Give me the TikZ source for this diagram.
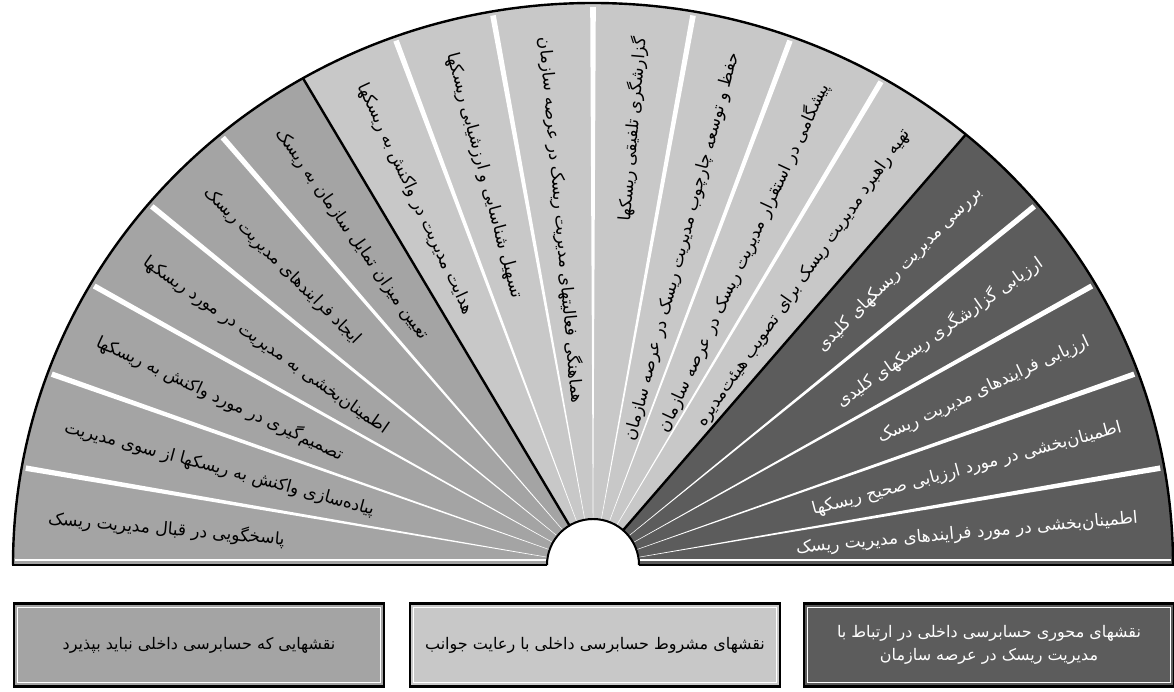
\documentclass[tikz,border=0pt]{standalone}
\usepackage{fontspec}
\newfontfamily\fa[Script=Arabic]{DejaVu Sans}
\TeXXeTstate=1
\definecolor{gA}{HTML}{A4A4A4}
\definecolor{gB}{HTML}{C8C8C8}
\definecolor{gC}{HTML}{5C5C5C}
\tikzset{
  lab/.style={font=\fa\fontsize{17}{20}\selectfont, inner sep=0pt},
  boxst/.style={draw=black, line width=2.5pt, minimum width=370pt, minimum height=83pt, inner sep=2pt,
     font=\fa\fontsize{16}{23}\selectfont, align=center},
  sep/.style={white},
  bound/.style={black, line width=2.4pt},
}
\begin{document}
\begin{tikzpicture}[x=1pt,y=1pt]
\useasboundingbox (0,0) rectangle (1174,691);
\fill[white] (0,0) rectangle (1174,691);
\coordinate (C) at (593,126);
% sectors
\fill[gA,shift={(C)}] (0,0) -- (180:580 and 562) arc[start angle=180,end angle=120,x radius=580,y radius=562] -- cycle;
\fill[gB,shift={(C)}] (0,0) -- (120:580 and 562) arc[start angle=120,end angle=50,x radius=580,y radius=562] -- cycle;
\fill[gC,shift={(C)}] (0,0) -- (50:580 and 562) arc[start angle=50,end angle=0,x radius=580,y radius=562] -- cycle;
% white separators
\foreach \a in {10,20,30,40,60,70,80,90,100,110,130,140,150,160,170}{
  \fill[sep,shift={(C)}] (0,0) -- (\a-0.28:576 and 558) -- (\a+0.28:576 and 558) -- cycle;
}
% group boundaries
\draw[bound,shift={(C)}] (0,0) -- (50:580 and 562);
\draw[bound,shift={(C)}] (0,0) -- (120:580 and 562);
% white line above bottom
\draw[white,line width=1.5pt] (15,131) -- (546,131);
\draw[white,line width=1.5pt] (640,131) -- (1171,131);
% outer arc and bottom
\draw[bound] (13,126) arc[start angle=180,end angle=0,x radius=580,y radius=562];
\draw[bound] (12,126) -- (547,126);
\draw[bound] (639,126) -- (1174,126);
% inner semicircle
\fill[white] (547,124.8) arc[start angle=180,end angle=0,radius=46] -- cycle;
\draw[black,line width=2pt] (547,126) arc[start angle=180,end angle=0,radius=46];
% labels: left half (outer end = west)
\foreach \a/\t [count=\i] in {
 175/پاسخگویی در قبال مدیریت ریسک,
 165/پیاده‌سازی واکنش به ریسکها از سوی مدیریت,
 155/تصمیم‌گیری در مورد واکنش به ریسکها,
 145/اطمینان‌بخشی به مدیریت در مورد ریسکها,
 135/ایجاد فرایندهای مدیریت ریسک,
 125/تعیین میزان تمایل سازمان به ریسک,
 115/هدایت مدیریت در واکنش به ریسکها,
 105/تسهیل شناسایی و ارزشیابی ریسکها,
 95/هماهنگی فعالیتهای مدیریت ریسک در عرصه سازمان}{
  \node[lab, rotate=\a-180, anchor=west] (L\i) at ([shift={(\a:547 and 530)}]C) {\beginR\t\endR};
}
\foreach \a/\t [count=\i] in {
 85/گزارشگری تلفیقی ریسکها,
 75/حفظ و توسعه چارچوب مدیریت ریسک در عرصه سازمان,
 65/پیشگامی در استقرار مدیریت ریسک در عرصه سازمان,
 55/تهیه راهبرد مدیریت ریسک برای تصویب هیئت‌مدیره}{
  \node[lab, rotate=\a, anchor=east] (M\i) at ([shift={(\a:547 and 530)}]C) {\beginR\t\endR};
}
\foreach \a/\t [count=\i] in {
 45/بررسی مدیریت ریسکهای کلیدی,
 35/ارزیابی گزارشگری ریسکهای کلیدی,
 25/ارزیابی فرایندهای مدیریت ریسک,
 15/اطمینان‌بخشی در مورد ارزیابی صحیح ریسکها,
 5/اطمینان‌بخشی در مورد فرایندهای مدیریت ریسک}{
  \node[lab, text=white, rotate=\a, anchor=east] (R\i) at ([shift={(\a:547 and 530)}]C) {\beginR\t\endR};
}
% legend boxes
\node[boxst, fill=gA] (b1) at (199,46) {\beginR نقشهایی که حسابرسی داخلی نباید بپذیرد\endR};
\node[boxst, fill=gB] (b2) at (595,46) {\beginR نقشهای مشروط حسابرسی داخلی با رعایت جوانب\endR};
\node[boxst, fill=gC, text=white] (b3) at (989,46) {\beginR نقشهای محوری حسابرسی داخلی در ارتباط با\endR\\\beginR مدیریت ریسک در عرصه سازمان\endR};
\foreach \b in {b1,b2,b3}{
  \draw[white,line width=1pt] ([shift={(5pt,5pt)}]\b.south west) rectangle ([shift={(-5pt,-5pt)}]\b.north east);
}
\end{tikzpicture}
\end{document}
